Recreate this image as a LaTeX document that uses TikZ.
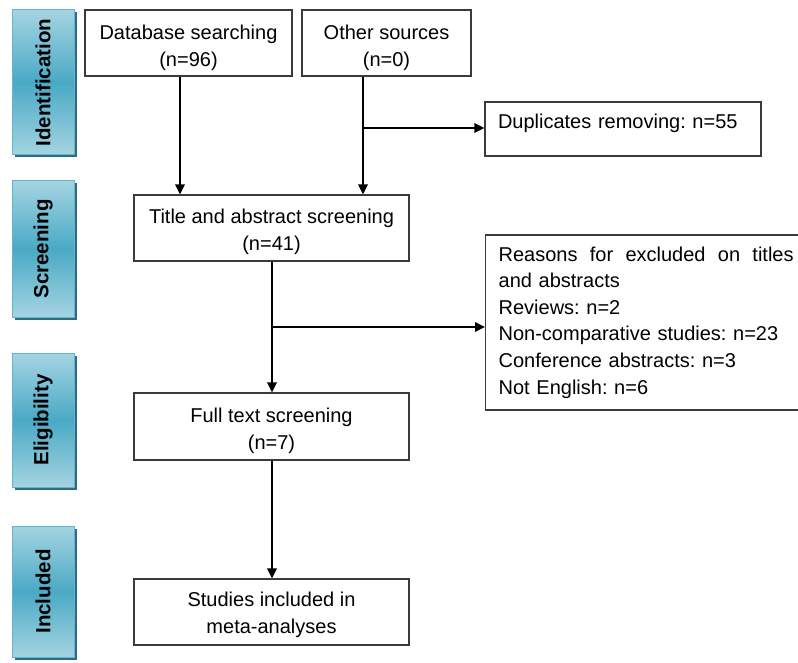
\documentclass[tikz,border=0pt]{standalone}
\usepackage{fontspec}
\setmainfont{Liberation Sans}
\frenchspacing
\usetikzlibrary{arrows.meta,calc,shadows}
\definecolor{sidelight}{HTML}{A4D4E2}
\definecolor{sidedark}{HTML}{4AA9C5}
\definecolor{sideedge}{HTML}{62B5CC}
\definecolor{sideshadow}{HTML}{2F6C7C}
\definecolor{boxedge}{HTML}{3A3A3A}
\begin{document}
\begin{tikzpicture}[x=1pt,y=-1pt,
  flowbox/.style={draw=boxedge, line width=1.3pt, inner sep=0pt, align=center,
    font=\fontsize{20}{27}\selectfont},
  sidebox/.style={draw=sideedge, line width=1pt, minimum width=62pt, inner sep=0pt,
    top color=sidelight, bottom color=sidelight, middle color=sidedark,
    drop shadow={shadow xshift=2.5pt, shadow yshift=-2.5pt, fill=sideshadow, opacity=1}},
  sidelab/.style={rotate=90, font=\fontsize{20.5}{24}\selectfont\bfseries, text=black, inner sep=0pt},
  arr/.style={line width=1.8pt, -{Triangle[length=10pt,width=9.5pt]}}
]
\useasboundingbox (0,0) rectangle (798,663);

% side phase labels
\node[sidebox, minimum height=145pt] (s1) at (43,82.5) {};
\node[sidelab] (t1) at (s1.center) {Identification};
\node[sidebox, minimum height=136pt] (s2) at (43,249) {};
\node[sidelab] (t2) at (s2.center) {Screening};
\node[sidebox, minimum height=134pt] (s3) at (43,420) {};
\node[sidelab] (t3) at (s3.center) {Eligibility};
\node[sidebox, minimum height=131pt] (s4) at (43,591.5) {};
\node[sidelab] (t4) at (s4.center) {Included};

% flow boxes
\node[flowbox, minimum width=207pt, minimum height=66pt] (db) at (188.5,43) {\rule{0pt}{25pt}Database searching\\(n=96)};
\node[flowbox, minimum width=169pt, minimum height=66pt] (os) at (386.5,43) {\rule{0pt}{25pt}Other sources\\(n=0)};
\node[flowbox, minimum width=275pt, minimum height=66pt] (ta) at (271.5,228) {\rule{0pt}{22.5pt}Title and abstract screening\\(n=41)};
\node[flowbox, minimum width=275pt, minimum height=67pt] (ft) at (271.5,426.5) {\rule{0pt}{22.5pt}Full text screening\\(n=7)};
\node[flowbox, minimum width=275pt, minimum height=66pt] (si) at (271.5,612) {\rule{0pt}{20.5pt}Studies included in\\meta-analyses};
\node[flowbox, minimum width=276pt, minimum height=54pt, align=left, text width=250pt, inner xsep=13pt] (dup) at (623,129)
  {\smash{Duplicates removing: n=55}};
\node[flowbox, minimum height=175pt, align=left, text width=295pt, inner xsep=13pt,
  font=\fontsize{20}{26.6}\selectfont, anchor=west] (rs) at (485,322.5)
  {\makebox[295pt][l]{Reasons\hfill for\hfill excluded\hfill on\hfill titles}\\and abstracts\\Reviews: n=2\\Non-comparative studies: n=23\\Conference abstracts: n=3\\Not English: n=6};

% connector columns and junctions
\coordinate (c1) at (180,0);
\coordinate (c2) at (363,0);
\coordinate (j1) at (363,128);
\coordinate (j2) at (272,327);
\coordinate (c3) at (272,0);

\draw[arr] (db.south -| c1) -- (ta.north -| c1);
\draw[arr] (os.south -| c2) -- (ta.north -| c2);
\draw[arr] (j1) -- (j1 -| dup.west);
\draw[arr] (ta.south -| c3) -- (ft.north -| c3);
\draw[arr] (j2) -- (j2 -| rs.west);
\draw[arr] (ft.south -| c3) -- (si.north -| c3);
\end{tikzpicture}
\end{document}
